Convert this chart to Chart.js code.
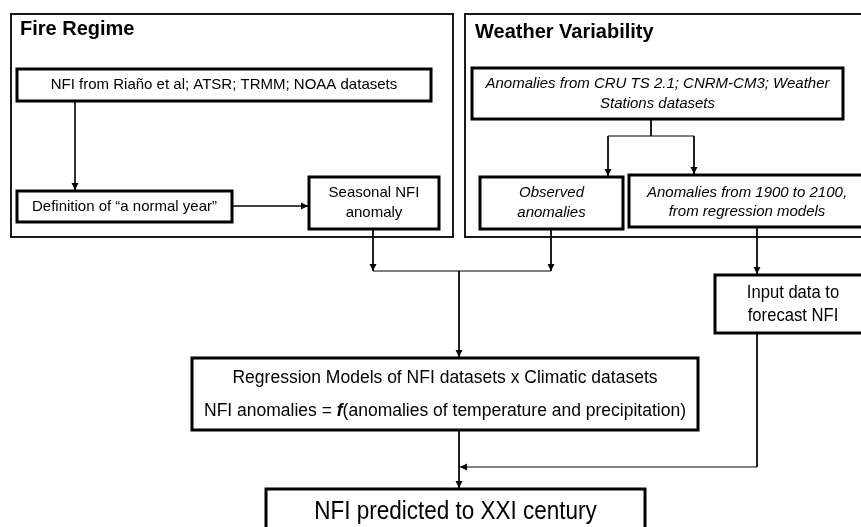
<!DOCTYPE html>
<html lang="en">

<head>
    <meta charset="UTF-8">
    <title>NFI forecasting flowchart</title>
    <script src="https://cdn.jsdelivr.net/npm/chart.js"></script>
    <style>
        body {
            margin: 0;
            background: #fff;
            overflow: hidden;
        }

        canvas {
            display: block;
        }
    </style>
</head>

<body>
    <canvas id="flowChart" width="861" height="527"></canvas>

    <script>
        // Texts of the diagram
        const groupTitles = ['Fire Regime', 'Weather Variability'];
        const nodeLabels = [
            ['NFI from Riaño et al; ATSR; TRMM; NOAA datasets'],
            ['Definition of “a normal year”'],
            ['Seasonal NFI', 'anomaly'],
            ['Anomalies from CRU TS 2.1; CNRM-CM3; Weather', 'Stations datasets'],
            ['Observed', 'anomalies'],
            ['Anomalies from 1900 to 2100,', 'from regression models'],
            ['Input data to', 'forecast NFI'],
            ['Regression Models of NFI datasets x Climatic datasets',
                [['NFI anomalies = ', ''], ['f', 'bold italic '], ['(anomalies of temperature and precipitation)', '']]],
            ['NFI predicted to XXI century']
        ];

        // Layout in diagram units (x 0..861, y 0..527 from top)
        const SANS = '"Liberation Sans", Arial, sans-serif';
        const groupLayout = [
            { box: [11, 14, 453, 237], title: [20, 29] },
            { box: [465, 14, 876, 237], title: [475, 32] }
        ];
        const nodeLayout = [
            { box: [17, 69, 431, 101], lines: [85], font: '15px ' + SANS },
            { box: [17, 191, 232, 222], lines: [207], font: '15px ' + SANS },
            { box: [309, 177, 439, 229], lines: [193, 213], font: '15px ' + SANS },
            { box: [472, 68, 843, 119], lines: [84, 104], font: 'italic 15px ' + SANS },
            { box: [480, 177, 623, 229], lines: [193, 213], font: 'italic 15px ' + SANS },
            { box: [629, 175, 865, 227], lines: [193, 212], font: 'italic 15px ' + SANS },
            { box: [715, 275, 871, 333], lines: [293, 316], font: '17.5px ' + SANS, squeeze: 0.95 },
            { box: [192, 358, 698, 430], lines: [378, 411], font: '17.5px ' + SANS, squeeze: 1 },
            { box: [266, 489, 645, 560], lines: [512], font: '25px ' + SANS, squeeze: 0.9 }
        ];

        // Connector polylines; arrow = head at last point
        const connectors = [
            { pts: [[75, 101], [75, 190]], arrow: true, w: 1.6 },
            { pts: [[232, 206], [308, 206]], arrow: true, w: 1.6 },
            { pts: [[651, 119], [651, 136], [608, 136], [608, 176]], arrow: true, w: 1 },
            { pts: [[651, 136], [694, 136], [694, 174]], arrow: true, w: 1 },
            { pts: [[373, 229], [373, 271]], arrow: true, w: 1 },
            { pts: [[551, 229], [551, 271]], arrow: true, w: 1 },
            { pts: [[373, 271], [551, 271]], arrow: false, w: 1 },
            { pts: [[459, 271], [459, 357]], arrow: true, w: 1 },
            { pts: [[757, 227], [757, 274]], arrow: true, w: 1 },
            { pts: [[757, 333], [757, 467], [460, 467]], arrow: true, w: 1 },
            { pts: [[459, 430], [459, 488]], arrow: true, w: 1 }
        ];

        function px(chart, x, y) {
            return [chart.scales.x.getPixelForValue(x), chart.scales.y.getPixelForValue(y)];
        }

        function strokeBox(ctx, chart, b, width, color) {
            const [x1, y1] = px(chart, b[0], b[1]);
            const [x2, y2] = px(chart, b[2], b[3]);
            ctx.fillStyle = '#fff';
            ctx.fillRect(x1, y1, x2 - x1, y2 - y1);
            ctx.lineWidth = width;
            ctx.strokeStyle = color;
            ctx.strokeRect(x1, y1, x2 - x1, y2 - y1);
        }

        // runs: [[text, extra font prefix], ...], drawn centred at (0, 0)
        function drawRuns(ctx, runs, font) {
            let total = 0;
            runs.forEach(r => {
                ctx.font = (r[1] || '') + font;
                total += ctx.measureText(r[0]).width;
            });
            let x = -total / 2;
            ctx.textAlign = 'left';
            runs.forEach(r => {
                ctx.font = (r[1] || '') + font;
                ctx.fillText(r[0], x, 0);
                x += ctx.measureText(r[0]).width;
            });
        }

        const diagramPlugin = {
            id: 'diagram',
            beforeDatasetsDraw(chart) {
                const ctx = chart.ctx;
                ctx.save();
                ctx.textBaseline = 'middle';

                groupLayout.forEach((g, i) => {
                    strokeBox(ctx, chart, g.box, 2, '#1a1a1a');
                    const [tx, ty] = px(chart, g.title[0], g.title[1]);
                    ctx.fillStyle = '#000';
                    ctx.font = 'bold 20px ' + SANS;
                    ctx.textAlign = 'left';
                    ctx.fillText(groupTitles[i], tx, ty);
                });

                nodeLayout.forEach((n, i) => {
                    strokeBox(ctx, chart, n.box, 3, '#000');
                    ctx.fillStyle = '#000';
                    const cx = (n.box[0] + n.box[2]) / 2;
                    nodeLabels[i].forEach((line, j) => {
                        const [x, y] = px(chart, cx, n.lines[j]);
                        ctx.save();
                        ctx.translate(x, y);
                        ctx.scale(n.squeeze || 1, 1);
                        if (Array.isArray(line)) {
                            drawRuns(ctx, line, n.font);
                        } else {
                            ctx.font = n.font;
                            ctx.textAlign = 'center';
                            ctx.fillText(line, 0, 0);
                        }
                        ctx.restore();
                    });
                });
                ctx.restore();
            },
            afterDatasetsDraw(chart) {
                const ctx = chart.ctx;
                ctx.save();
                ctx.fillStyle = '#000';
                connectors.forEach(c => {
                    if (!c.arrow) return;
                    const n = c.pts.length;
                    const [x0, y0] = px(chart, c.pts[n - 2][0], c.pts[n - 2][1]);
                    const [x1, y1] = px(chart, c.pts[n - 1][0], c.pts[n - 1][1]);
                    const a = Math.atan2(y1 - y0, x1 - x0);
                    const len = 7, half = 3.5;
                    ctx.beginPath();
                    ctx.moveTo(x1, y1);
                    ctx.lineTo(x1 - len * Math.cos(a) + half * Math.sin(a), y1 - len * Math.sin(a) - half * Math.cos(a));
                    ctx.lineTo(x1 - len * Math.cos(a) - half * Math.sin(a), y1 - len * Math.sin(a) + half * Math.cos(a));
                    ctx.closePath();
                    ctx.fill();
                });
                ctx.restore();
            }
        };

        const ctx = document.getElementById('flowChart').getContext('2d');
        const flowChart = new Chart(ctx, {
            type: 'scatter',
            data: {
                datasets: connectors.map(c => ({
                    data: c.pts.map(p => ({ x: p[0], y: p[1] })),
                    showLine: true,
                    borderColor: '#000',
                    borderWidth: c.w,
                    pointRadius: 0,
                    fill: false,
                    tension: 0
                }))
            },
            options: {
                responsive: false,
                animation: false,
                devicePixelRatio: 1,
                layout: { padding: 0 },
                plugins: {
                    legend: { display: false },
                    tooltip: { enabled: false }
                },
                scales: {
                    x: { type: 'linear', min: 0, max: 861, display: false },
                    y: { type: 'linear', min: 0, max: 527, reverse: true, display: false }
                }
            },
            plugins: [diagramPlugin]
        });
    </script>

</body>

</html>
